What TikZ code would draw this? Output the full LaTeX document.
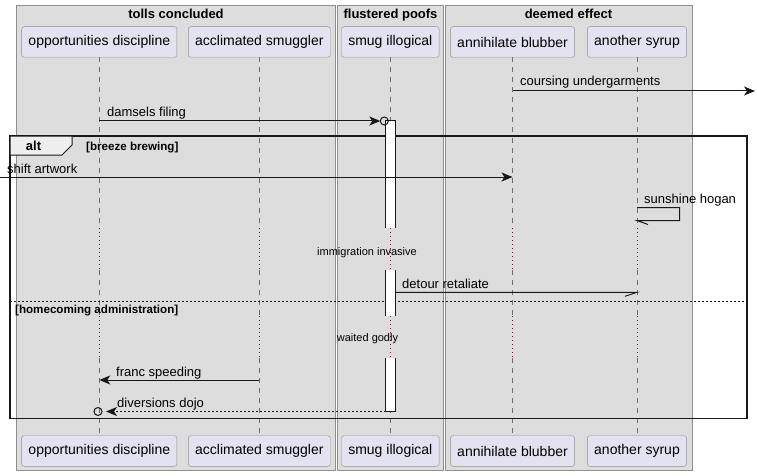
\documentclass[tikz,border=0pt]{standalone}
\usepackage{fontspec}
\setmainfont{Liberation Sans}
\usetikzlibrary{arrows.meta}
\definecolor{grpfill}{HTML}{DDDDDD}
\definecolor{grpline}{HTML}{8F8F8F}
\definecolor{partfill}{HTML}{E2E2F0}
\definecolor{partline}{HTML}{8F8F8F}
\definecolor{lifegray}{HTML}{6E6E6E}
\definecolor{pausered}{HTML}{A80036}
\definecolor{tabfill}{HTML}{EEEEEE}
\definecolor{ink}{HTML}{181818}
\begin{document}
\begin{tikzpicture}[x=1pt, y=-1pt, >={Stealth[length=11pt,width=9pt,inset=3pt]},
  grp/.style={draw=grpline, fill=grpfill, line width=0.8pt},
  grptitle/.style={font=\fontsize{13}{15}\selectfont\bfseries, anchor=base, inner sep=0pt},
  part/.style={draw=partline, fill=partfill, rounded corners=2.5pt, minimum height=30.6pt, inner xsep=6.8pt, font=\fontsize{14}{16}\selectfont},
  life/.style={draw=lifegray, dash pattern=on 5pt off 5pt, line width=0.8pt},
  pause/.style={draw=pausered, dash pattern=on 1pt off 3pt, line width=0.8pt},
  msg/.style={draw=ink, line width=1pt},
  lbl/.style={font=\fontsize{13}{15}\selectfont, anchor=base west, inner sep=0pt},
  delay/.style={font=\fontsize{11}{13}\selectfont, anchor=base, inner sep=0pt},
  guard/.style={font=\fontsize{11.6}{13}\selectfont\bfseries, anchor=base west, inner sep=0pt}]
\useasboundingbox (0,0) rectangle (757,476);
% group boxes
\draw[grp] (16.5,5.5) rectangle (335.5,470.5);
\draw[grp] (337.5,5.5) rectangle (443.5,470.5);
\draw[grp] (445,5.5) rectangle (692.5,470.5);
\node[grptitle] (tTolls) at (176,19) {tolls concluded};
\node[grptitle] (tPoofs) at (390.5,19) {flustered poofs};
\node[grptitle] (tEffect) at (568.5,19) {deemed effect};
% participants, top and bottom
\foreach \n/\x/\t in {opp/99.3/opportunities discipline, acc/259.3/acclimated smuggler,
    smug/390.3/smug illogical, anni/512.5/annihilate blubber, syrup/637/another syrup} {
  \node[part] (\n) at (\x,42) {\t};
  \node[part] (b\n) at (\x,451) {\t};
}
% lifelines with the two delays
\foreach \n in {opp,acc,smug,anni,syrup} {
  \draw[life] (\n.south) -- (\n.south |- 0,228);
  \draw[pause] (\n.south |- 0,228) -- (\n.south |- 0,270);
  \draw[life] (\n.south |- 0,270) -- (\n.south |- 0,316);
  \draw[pause] (\n.south |- 0,316) -- (\n.south |- 0,358);
  \draw[life] (\n.south |- 0,358) -- (b\n.north);
}
% alt frame
\draw[draw=ink, line width=1.5pt] (10,136) rectangle (747,418.5);
\draw[draw=ink, fill=tabfill, line width=1pt] (10,136) -- (72,136) -- (72,145) -- (62,155) -- (10,155) -- cycle;
\node[font=\fontsize{13}{15}\selectfont\bfseries, anchor=base, inner sep=0pt] (altTag) at (33.5,150) {alt};
\node[guard] (gBreeze) at (86,150) {[breeze brewing]};
\draw[draw=ink, dash pattern=on 2pt off 2pt, line width=0.8pt] (10,301) -- (747,301);
\node[guard] (gHome) at (15,313) {[homecoming administration]};
% activation of smug illogical
\coordinate (barL) at (385.5,0);
\coordinate (barR) at (395.5,0);
\fill[white] (385.5,121) rectangle (395.5,228);
\fill[white] (385.5,270) rectangle (395.5,316);
\fill[white] (385.5,358) rectangle (395.5,411.5);
\draw[msg] (385.5,228) -- (385.5,121) -- (395.5,121) -- (395.5,228);
\draw[msg] (385.5,270) -- (385.5,316) (395.5,270) -- (395.5,316);
\draw[msg] (385.5,358) -- (385.5,411.5) -- (395.5,411.5) -- (395.5,358);
% messages
\coordinate (edgeR) at (755,91);
\coordinate (edgeL) at (0,177);
\draw[msg,->] (anni |- edgeR) -- (edgeR);
\node[lbl] (mCoursing) at (520,86) {coursing undergarments};
\coordinate (circA) at (384.3,121);
\draw[msg,->] (opp |- circA) -- ([xshift=-4pt]circA);
\draw[msg] (circA) circle (4pt);
\node[lbl] (mDamsels) at (107,117) {damsels filing};
\draw[msg,->] (edgeL) -- (anni |- edgeL);
\node[lbl] (mShift) at (7,173) {shift artwork};
\coordinate (selfA) at (679.5,207.5);
\draw[msg] (syrup |- selfA) -- (selfA) -- (selfA |- 0,220.5) -- (syrup |- 0,220.5) -- ++(11,4);
\node[lbl] (mSunshine) at (644,203) {sunshine hogan};
\node[delay] (dImmigration) at (367,255) {immigration invasive};
\draw[msg] (barR |- 0,292.3) -- (syrup |- 0,292.3) -- ++(-12,4);
\node[lbl] (mDetour) at (402,288) {detour retaliate};
\node[delay] (dWaited) at (367.5,341.5) {waited godly};
\draw[msg,->] (acc |- 0,380) -- (opp |- 0,380);
\node[lbl] (mFranc) at (116,376.5) {franc speeding};
\coordinate (circB) at (98,411.5);
\draw[msg, dash pattern=on 2pt off 2pt, ->] (barL |- circB) -- ([xshift=8pt]circB);
\draw[msg] (circB) circle (4pt);
\node[lbl] (mDiversions) at (117,407) {diversions dojo};
\end{tikzpicture}
\end{document}
